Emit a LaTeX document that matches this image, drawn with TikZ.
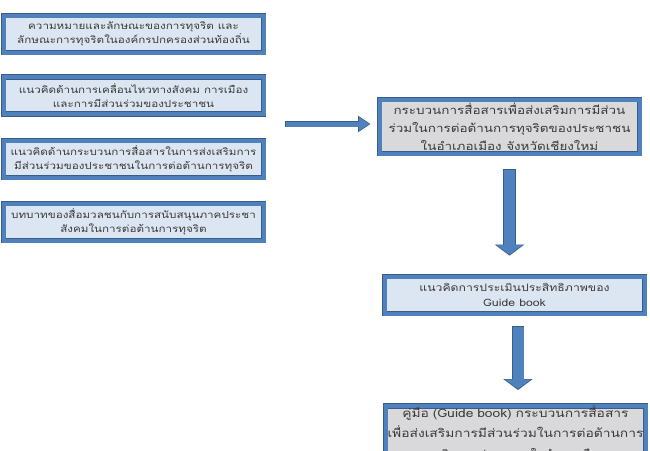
\documentclass[tikz,border=0pt]{standalone}
\usepackage{fontspec}
\newfontfamily\thaifont[Script=Thai,FakeStretch=1.2]{Loma}
\usetikzlibrary{arrows.meta}
\definecolor{frameB}{HTML}{4F81BD}
\definecolor{frameD}{HTML}{385D8A}
\definecolor{lightB}{HTML}{DCE6F2}
\definecolor{greyF}{HTML}{D9D9DC}
\definecolor{txt}{HTML}{3A3A3A}
\tikzset{
  boxbase/.style={draw=frameD, line width=0.6pt, double=frameB, double distance=4pt,
    minimum width=260pt, inner sep=0pt, align=center, text=txt, font=\thaifont},
  leftbox/.style={boxbase, fill=lightB, minimum height=37pt, font=\thaifont\fontsize{9.7}{14}\selectfont},
  mainbox/.style={boxbase, fill=greyF, minimum height=54pt, font=\thaifont\fontsize{11.2}{18}\selectfont},
  guidebox/.style={boxbase, fill=lightB, minimum height=37pt, font=\thaifont\fontsize{10.2}{15}\selectfont},
  finalbox/.style={boxbase, fill=greyF, minimum height=54pt, text width=256pt, font=\thaifont\fontsize{11.5}{20}\selectfont},
  harrowout/.style={draw=frameD, line width=6.5pt, -{Triangle[width=15.5pt,length=12.5pt]}},
  harrowin/.style={draw=frameB, line width=5pt, -{Triangle[width=13pt,length=10.5pt]}},
  varrowout/.style={draw=frameD, line width=12.5pt, -{Triangle[width=29pt,length=11pt]}},
  varrowin/.style={draw=frameB, line width=11pt, -{Triangle[width=26pt,length=9.5pt]}},
}
\begin{document}
\begin{tikzpicture}[x=1pt,y=-1pt]
\clip (0,0) rectangle (650,450);
\fill[white] (0,0) rectangle (650,450);

\node[leftbox] (l1) at (133.5,34) {ความหมายและลักษณะของการทุจริต และ\\ลักษณะการทุจริตในองค์กรปกครองส่วนท้องถิ่น};
\node[leftbox] (l2) at (133.5,95.5) {แนวคิดด้านการเคลื่อนไหวทางสังคม การเมือง\\และการมีส่วนร่วมของประชาชน};
\node[leftbox] (l3) at (133.5,159) {แนวคิดด้านกระบวนการสื่อสารในการส่งเสริมการ\\มีส่วนร่วมของประชาชนในการต่อต้านการทุจริต};
\node[leftbox] (l4) at (133.5,222) {บทบาทของสื่อมวลชนกับการสนับสนุนภาคประชา\\สังคมในการต่อต้านการทุจริต};

\node[mainbox] (r1) at (509.5,126.5) {กระบวนการสื่อสารเพื่อส่งเสริมการมีส่วน\\ร่วมในการต่อต้านการทุจริตของประชาชน\\ในอำเภอเมือง จังหวัดเชียงใหม่};
\node[guidebox] (g) at (514.5,295) {แนวคิดการประเมินประสิทธิภาพของ\\Guide book};
\node[finalbox, anchor=north, yshift=-2.6pt] (f) at (515.5,403) {คู่มือ (Guide book) กระบวนการสื่อสาร\\เพื่อส่งเสริมการมีส่วนร่วมในการต่อต้านการ\\{\fontsize{10.1}{20}\selectfont ทุจริตของประชาชนในอำเภอเมือง จังหวัดเชียงใหม่}};

\coordinate (hs) at (285,124);
\draw[harrowout, shorten >=8.6pt] (hs) -- (hs -| r1.west);
\draw[harrowin, shorten <=0.75pt, shorten >=9.8pt] (hs) -- (hs -| r1.west);

\draw[varrowout, shorten <=15.6pt, shorten >=20.6pt] (r1.south) -- (r1.south |- g.north);
\draw[varrowin, shorten <=16.3pt, shorten >=21.8pt] (r1.south) -- (r1.south |- g.north);

\draw[varrowout, shorten <=12.6pt, shorten >=15.6pt] ([xshift=3.5pt]g.south) -- ([xshift=3.5pt]g.south |- f.north);
\draw[varrowin, shorten <=13.3pt, shorten >=16.8pt] ([xshift=3.5pt]g.south) -- ([xshift=3.5pt]g.south |- f.north);
\end{tikzpicture}
\end{document}
